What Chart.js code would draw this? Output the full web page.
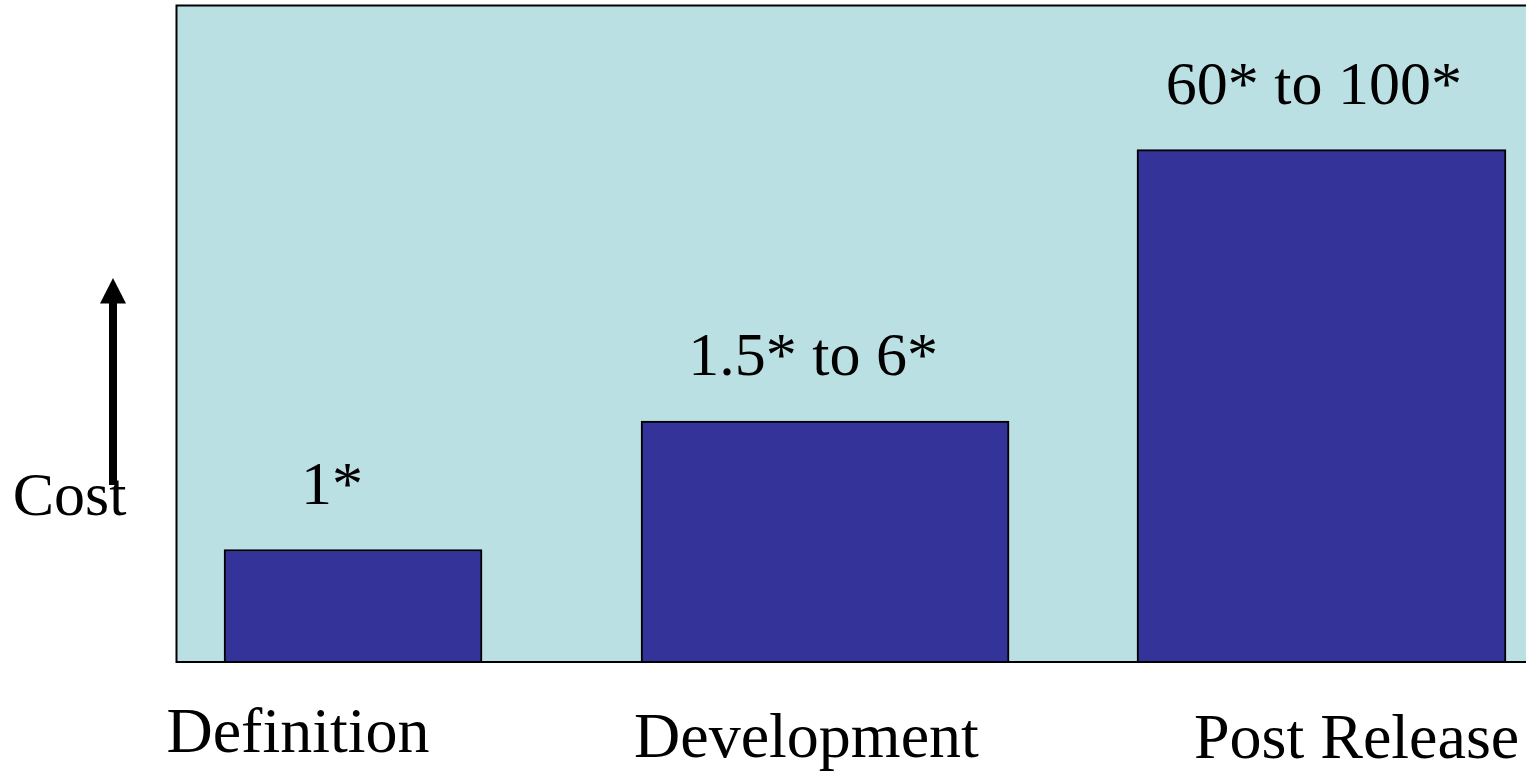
<!DOCTYPE html>
<html>
<head>
<meta charset="utf-8">
<script src="https://cdn.jsdelivr.net/npm/chart.js@4/dist/chart.umd.min.js"></script>
<style>
  html, body { margin: 0; padding: 0; background: #ffffff; overflow: hidden; }
  canvas { display: block; }
</style>
</head>
<body>
<canvas id="costChart" width="1526" height="774"></canvas>
<script>
// Relative cost of fixing a defect, by the stage where it is found
const stages = ['Definition', 'Development', 'Post Release'];
const relativeCost = [1, 4, 75];                 // representative value within each stated range
const costLabels = ['1*', '1.5* to 6*', '60* to 100*'];

// Horizontal layout, in percent of the plot width
const barCenters = [13.05, 48.04, 84.84];
const barWidthsPx = [258, 368, 369];
const costLabelCenters = [11.49, 47.15, 84.28];
const stageLabelCenters = [8.97, 46.66, 87.44];
const stageLabelDrop = [91, 96, 97];             // px below the plot floor

const PANEL = '#BBE0E3';
const BAR = '#333399';
const SERIF = '"Liberation Serif", "Times New Roman", serif';

const panelPlugin = {
  id: 'panel',
  beforeDraw(chart) {
    const { ctx, chartArea: a } = chart;
    ctx.save();
    ctx.fillStyle = PANEL;
    ctx.fillRect(a.left, a.top, a.right - a.left, a.bottom - a.top);
    ctx.restore();
  },
  afterDatasetsDraw(chart) {
    const { ctx, chartArea: a } = chart;
    const xs = chart.scales.x, ys = chart.scales.y;
    ctx.save();

    // frame: left, top and floor
    ctx.strokeStyle = '#000';
    ctx.lineWidth = 2;
    ctx.beginPath();
    ctx.moveTo(chart.width + 2, a.top - 0.5);
    ctx.lineTo(a.left - 0.5, a.top - 0.5);
    ctx.lineTo(a.left - 0.5, a.bottom + 1);
    ctx.lineTo(chart.width + 2, a.bottom + 1);
    ctx.stroke();

    ctx.fillStyle = '#000';
    ctx.textBaseline = 'alphabetic';
    ctx.textAlign = 'center';

    // range labels above the bars
    ctx.font = '62px ' + SERIF;
    costLabels.forEach((t, i) => {
      const x = xs.getPixelForValue(costLabelCenters[i]);
      const y = ys.getPixelForValue(relativeCost[i]) - 46;
      ctx.fillText(t, x, y);
    });

    // stage names under the plot
    ctx.font = '64px ' + SERIF;
    stages.forEach((t, i) => {
      ctx.fillText(t, xs.getPixelForValue(stageLabelCenters[i]), a.bottom + stageLabelDrop[i]);
    });

    // value axis: "Cost" with an upward arrow
    ctx.font = '62px ' + SERIF;
    ctx.fillText('Cost', 69.5, 515);
    ctx.fillRect(109, 302, 8, 183);
    ctx.beginPath();
    ctx.moveTo(100, 303.5);
    ctx.lineTo(126, 303.5);
    ctx.lineTo(113, 278);
    ctx.closePath();
    ctx.fill();

    ctx.restore();
  }
};

const datasets = stages.map((name, i) => ({
  label: name,
  data: [{ x: barCenters[i], y: relativeCost[i] }],
  barThickness: barWidthsPx[i],
  grouped: false,
  backgroundColor: BAR,
  borderColor: '#000000',
  borderWidth: 2,
  borderSkipped: 'bottom'
}));

new Chart(document.getElementById('costChart'), {
  type: 'bar',
  data: { datasets },
  options: {
    responsive: false,
    animation: false,
    layout: { padding: { left: 177, top: 6, right: 0, bottom: 113 } },
    scales: {
      x: { type: 'linear', min: 0, max: 100, offset: false, display: false },
      y: { type: 'logarithmic', min: 0.3, max: 354, display: false }
    },
    plugins: {
      legend: { display: false },
      tooltip: { enabled: false }
    }
  },
  plugins: [panelPlugin]
});
</script>
</body>
</html>
